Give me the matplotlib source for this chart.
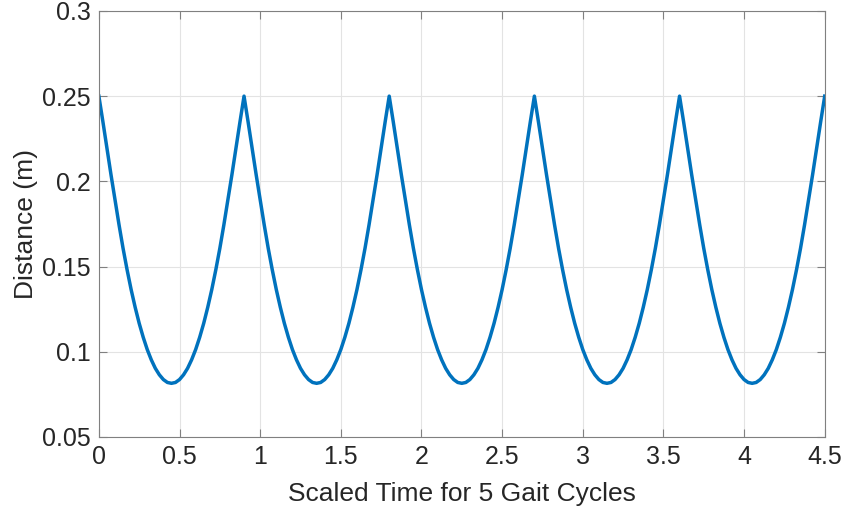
import numpy as np
import matplotlib.pyplot as plt

# one gait cycle (time step 0.025, period 0.9)
cycle_t = [0.000, 0.025, 0.050, 0.075, 0.100, 0.125, 0.150, 0.175, 0.200,
           0.225, 0.250, 0.275, 0.300, 0.325, 0.350, 0.375, 0.400, 0.425,
           0.450, 0.475, 0.500, 0.525, 0.550, 0.575, 0.600, 0.625, 0.650,
           0.675, 0.700, 0.725, 0.750, 0.775, 0.800, 0.825, 0.850, 0.875,
           0.900]
cycle_d = [0.2500, 0.2350, 0.2195, 0.2040, 0.1893, 0.1745, 0.1607, 0.1481,
           0.1365, 0.1261, 0.1167, 0.1085, 0.1013, 0.0953, 0.0903, 0.0865,
           0.0837, 0.0820, 0.0815, 0.0820, 0.0837, 0.0865, 0.0903, 0.0953,
           0.1013, 0.1085, 0.1167, 0.1261, 0.1365, 0.1481, 0.1607, 0.1745,
           0.1893, 0.2040, 0.2195, 0.2350, 0.2500]
period = 0.9
n_cycles = 5

xticks = [0, 0.5, 1, 1.5, 2, 2.5, 3, 3.5, 4, 4.5]
xtick_labels = ['0', '0.5', '1', '1.5', '2', '2.5', '3', '3.5', '4', '4.5']
yticks = [0.05, 0.1, 0.15, 0.2, 0.25, 0.3]
ytick_labels = ['0.05', '0.1', '0.15', '0.2', '0.25', '0.3']

t = []
d = []
for c in range(n_cycles):
    start = 0 if c == 0 else 1
    t += [c * period + v for v in cycle_t[start:]]
    d += cycle_d[start:]

plt.rcParams['font.family'] = ['Liberation Sans', 'DejaVu Sans']

fig = plt.figure(figsize=(8.45, 5.19), dpi=100)
ax = fig.add_axes([0.117, 0.158, 0.859, 0.821])
ax.plot(t, d, color='#0072BD', linewidth=2.5)

ax.set_xlim(0, 4.5)
ax.set_ylim(0.05, 0.3)
ax.set_xticks(xticks)
ax.set_xticklabels(xtick_labels)
ax.set_yticks(yticks)
ax.set_yticklabels(ytick_labels)
ax.grid(True, color='#e3e3e3', linewidth=0.8)
ax.set_axisbelow(True)
ax.tick_params(direction='in', length=6, width=0.8, colors='#808080',
               labelcolor='#262626', labelsize=18, top=True, right=True, pad=6)
for s in ax.spines.values():
    s.set_color('#808080')
    s.set_linewidth(0.8)

ax.set_xlabel('Scaled Time for 5 Gait Cycles', fontsize=19, color='#262626', labelpad=9)
ax.set_ylabel('Distance (m)', fontsize=19, color='#262626', labelpad=3)

fig.savefig('out.png', dpi=100)
